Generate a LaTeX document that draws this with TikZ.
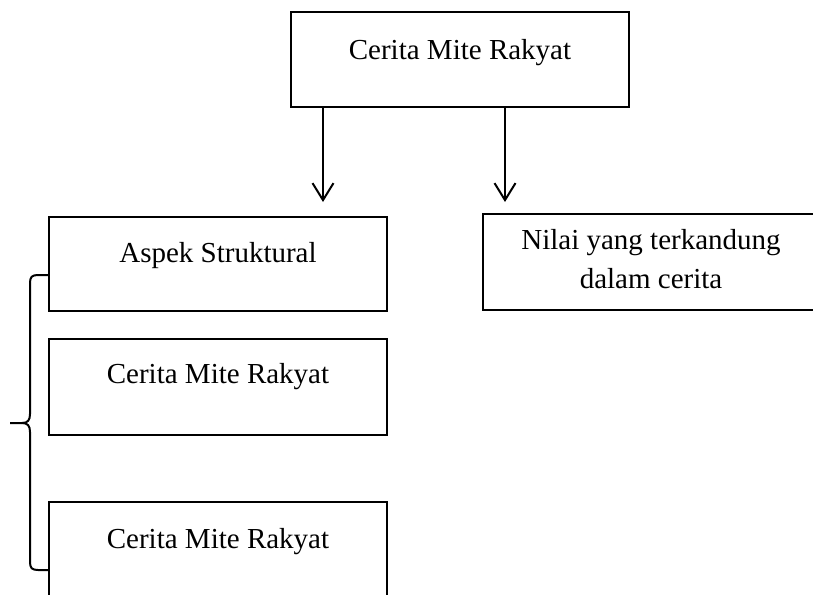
\documentclass[tikz,border=0pt]{standalone}
\usepackage{fontspec}
\setmainfont{Liberation Serif}
\usetikzlibrary{arrows.meta}
\usetikzlibrary{positioning}

\tikzset{
	kotak/.style={draw, line width=2.2pt, minimum width=338pt, minimum height=95pt, inner sep=0pt},
	teks/.style={font=\fontsize{29}{39}\selectfont, align=center, inner sep=0pt},
	panah/.style={line width=2pt, -{Straight Barb[length=17pt,width=21pt]}}
}

\begin{document}
\begin{tikzpicture}[x=1pt,y=1pt,yscale=-1,xscale=1]
		\useasboundingbox (0,0) rectangle (813,594);
		\clip (0,0) rectangle (813,594);
		
		%Kotak atas
		\node[kotak] (mite) at (460,59.5) {};
		\node[teks] (mite-t) at (460,53) {Cerita Mite Rakyat};
		
		%Kotak kiri
		\node[kotak, minimum height=94pt] (aspek) at (218,264) {};
		\node[teks] (aspek-t) at (218,256) {Aspek Struktural};
		\node[kotak, minimum height=96pt] (mite2) at (218,387) {};
		\node[teks] (mite2-t) at (218,377) {Cerita Mite Rakyat};
		\node[kotak, minimum height=100pt] (mite3) at (218,552) {};
		\node[teks] (mite3-t) at (218,542) {Cerita Mite Rakyat};
		
		%Kotak kanan
		\node[kotak, minimum height=96pt] (nilai) at (652,262) {};
		\node[teks] (nilai-t) at (651,259.5) {Nilai yang terkandung\\dalam cerita};
		
		%Panah
		\coordinate (ujung1) at (323,202);
		\coordinate (ujung2) at (505,202);
		\draw[panah] (mite.south -| ujung1) -- (ujung1);
		\draw[panah] (mite.south -| ujung2) -- (ujung2);
		
		%Kurung kurawal
		\draw[line width=2pt] (49,275) -- (38,275) .. controls (32,275) and (30,277) .. (30,283) -- (30,414) .. controls (30,420) and (28,423) .. (22,423) -- (10,423);
		\draw[line width=2pt] (22,423) .. controls (28,423) and (30,426) .. (30,432) -- (30,562) .. controls (30,568) and (32,570) .. (38,570) -- (49,570);
		
	\end{tikzpicture}
\end{document}
